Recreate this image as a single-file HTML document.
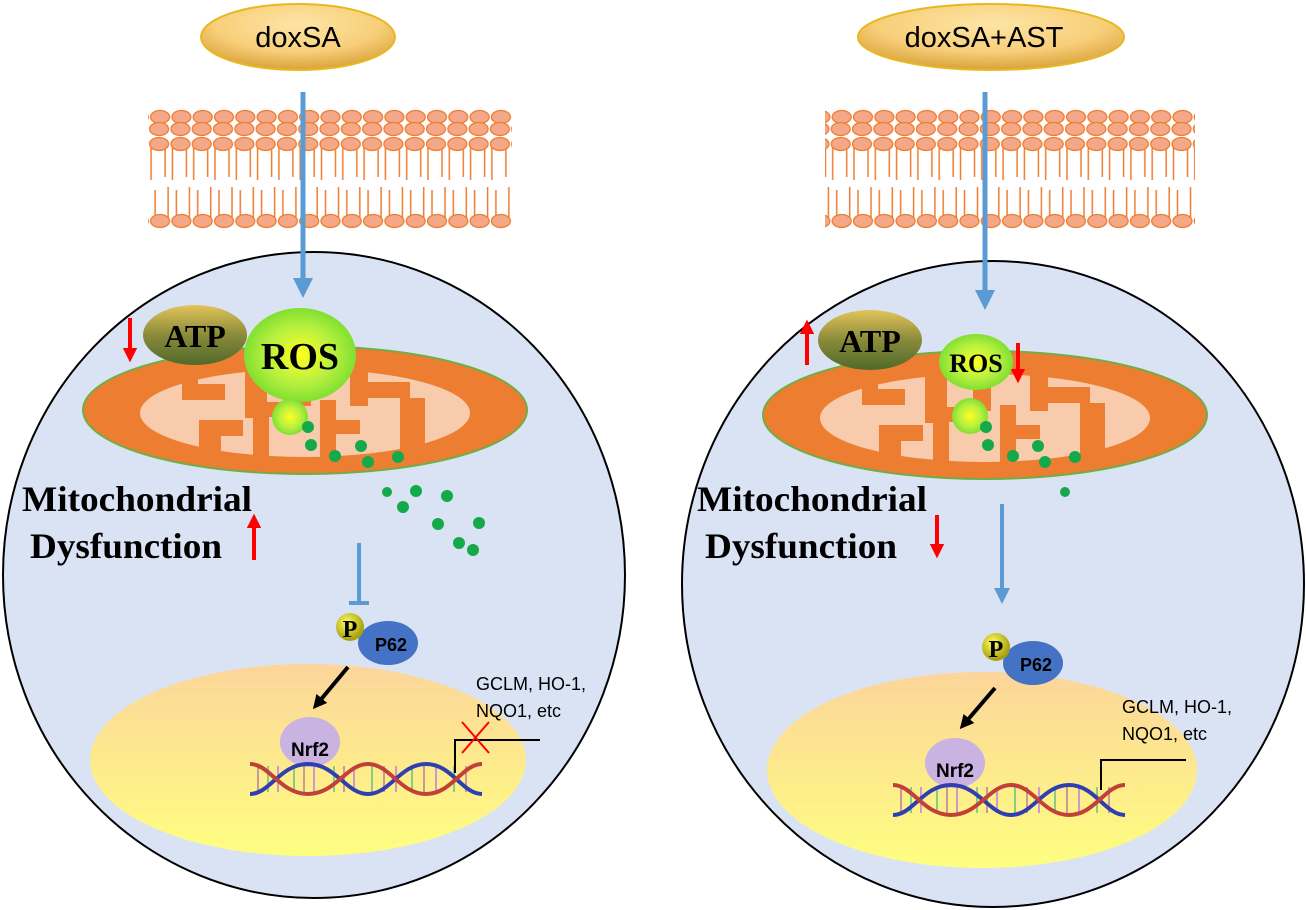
<!DOCTYPE html>
<html><head><meta charset="utf-8"><style>
html,body{margin:0;padding:0;background:#fff;}
svg{display:block;}
.ser{font-family:"Liberation Serif",serif;font-weight:bold;}
.san{font-family:"Liberation Sans",sans-serif;}
</style></head><body>
<svg width="1306" height="910" viewBox="0 0 1306 910" xmlns="http://www.w3.org/2000/svg">
<defs>
<radialGradient id="gold" cx="50%" cy="30%" r="70%"><stop offset="0" stop-color="#fde5a6"/><stop offset="0.6" stop-color="#f8cf7a"/><stop offset="1" stop-color="#d9a23a"/></radialGradient>
<linearGradient id="atp" x1="0" y1="0" x2="0" y2="1"><stop offset="0" stop-color="#e2c45a"/><stop offset="0.5" stop-color="#8a8a3a"/><stop offset="1" stop-color="#4f6a2a"/></linearGradient>
<radialGradient id="ros" cx="50%" cy="50%" r="50%"><stop offset="0" stop-color="#ffff20"/><stop offset="0.6" stop-color="#b8f040"/><stop offset="1" stop-color="#80e030"/></radialGradient>
<linearGradient id="nuc" x1="0" y1="0" x2="0" y2="1"><stop offset="0" stop-color="#fcd59a"/><stop offset="1" stop-color="#fefe80"/></linearGradient>
<radialGradient id="pball" cx="40%" cy="35%" r="60%"><stop offset="0" stop-color="#ffff60"/><stop offset="1" stop-color="#a8a010"/></radialGradient>
<pattern id="mem" x="0" y="105" width="21.3" height="125" patternUnits="userSpaceOnUse">
<line x1="2" y1="40" x2="2" y2="75" stroke="#ed7d31" stroke-width="1.5"/>
<line x1="16" y1="40" x2="16" y2="72" stroke="#ed7d31" stroke-width="1.5"/>
<line x1="6" y1="85" x2="6" y2="116" stroke="#ed7d31" stroke-width="1.5"/>
<line x1="19" y1="82" x2="19" y2="116" stroke="#ed7d31" stroke-width="1.5"/>
<ellipse cx="11" cy="12" rx="9.5" ry="6.5" fill="#f4a887" stroke="#ed7d31" stroke-width="1.3"/>
<ellipse cx="10" cy="24" rx="9.5" ry="6.5" fill="#f4a887" stroke="#ed7d31" stroke-width="1.3"/>
<ellipse cx="10" cy="39" rx="9.5" ry="6.5" fill="#f4a887" stroke="#ed7d31" stroke-width="1.3"/>
<ellipse cx="11" cy="116" rx="9.5" ry="6.5" fill="#f4a887" stroke="#ed7d31" stroke-width="1.3"/>
</pattern>
<marker id="bh" markerWidth="4" markerHeight="4" refX="2" refY="2" orient="auto" markerUnits="strokeWidth"><path d="M0,0 L4,2 L0,4z" fill="#5b9bd5"/></marker>
<marker id="rh" markerWidth="3.6" markerHeight="3.6" refX="1" refY="1.8" orient="auto" markerUnits="strokeWidth"><path d="M0,0 L3.6,1.8 L0,3.6z" fill="#ff0000"/></marker>
<marker id="kh" markerWidth="3.5" markerHeight="3.5" refX="1.5" refY="1.75" orient="auto" markerUnits="strokeWidth"><path d="M0,0 L3.5,1.75 L0,3.5z" fill="#000"/></marker>
<g id="mito">
<ellipse cx="0" cy="0" rx="222" ry="64" fill="#ed7d31" stroke="#70ad47" stroke-width="2"/>
<ellipse cx="0" cy="3" rx="165" ry="44" fill="#f8cbad"/>
<rect x="-123" y="-42" width="16" height="32" fill="#ed7d31"/>
<rect x="-107" y="-26" width="27" height="16" fill="#ed7d31"/>
<rect x="-106" y="10" width="22" height="40" fill="#ed7d31"/>
<rect x="-84" y="10" width="22" height="16" fill="#ed7d31"/>
<rect x="-60" y="-42" width="22" height="50" fill="#ed7d31"/>
<rect x="-38" y="-8" width="28" height="15" fill="#ed7d31"/>
<rect x="-52" y="-2" width="16" height="58" fill="#ed7d31"/>
<rect x="-12" y="-42" width="18" height="38" fill="#ed7d31"/>
<rect x="15" y="-10" width="16" height="60" fill="#ed7d31"/>
<rect x="31" y="10" width="24" height="14" fill="#ed7d31"/>
<rect x="45" y="-42" width="18" height="38" fill="#ed7d31"/>
<rect x="63" y="-28" width="42" height="16" fill="#ed7d31"/>
<rect x="95" y="-12" width="25" height="62" fill="#ed7d31"/>
</g>
<g id="dna">
<g stroke-width="2">
<line x1="8" y1="4" x2="8" y2="30" stroke="#c99"/><line x1="18" y1="4" x2="18" y2="30" stroke="#8c8"/><line x1="28" y1="4" x2="28" y2="30" stroke="#c9c"/><line x1="44" y1="4" x2="44" y2="30" stroke="#8c8"/><line x1="54" y1="4" x2="54" y2="30" stroke="#c99"/><line x1="64" y1="4" x2="64" y2="30" stroke="#c9c"/><line x1="84" y1="4" x2="84" y2="30" stroke="#8c8"/><line x1="94" y1="4" x2="94" y2="30" stroke="#c99"/><line x1="104" y1="4" x2="104" y2="30" stroke="#c9c"/><line x1="122" y1="4" x2="122" y2="30" stroke="#8c8"/><line x1="134" y1="4" x2="134" y2="30" stroke="#c99"/><line x1="146" y1="4" x2="146" y2="30" stroke="#c9c"/><line x1="162" y1="4" x2="162" y2="30" stroke="#8c8"/><line x1="174" y1="4" x2="174" y2="30" stroke="#c99"/><line x1="186" y1="4" x2="186" y2="30" stroke="#c9c"/><line x1="204" y1="4" x2="204" y2="30" stroke="#8c8"/><line x1="216" y1="4" x2="216" y2="30" stroke="#c99"/>
</g>
<path d="M0,32 C20,32 30,2 58,2 C86,2 96,32 118,32 C140,32 150,2 176,2 C202,2 212,32 232,32" fill="none" stroke="#2f3fb0" stroke-width="4"/>
<path d="M0,2 C20,2 30,32 58,32 C86,32 96,2 118,2 C140,2 150,32 176,32 C202,32 212,2 232,2" fill="none" stroke="#c0403a" stroke-width="4"/>
</g>
</defs>
<rect width="1306" height="910" fill="#fff"/>

<!-- LEFT -->
<ellipse cx="298" cy="37" rx="97" ry="33" fill="url(#gold)" stroke="#e8b820" stroke-width="2"/>
<text x="298" y="47" text-anchor="middle" class="san" font-size="29">doxSA</text>
<rect x="148" y="105" width="364" height="125" fill="url(#mem)"/>
<ellipse cx="314" cy="575" rx="311" ry="323" fill="#dae3f3" stroke="#000" stroke-width="2"/>
<use href="#mito" x="305" y="410"/>
<line x1="303" y1="92" x2="303" y2="288" stroke="#5b9bd5" stroke-width="5" marker-end="url(#bh)"/>
<ellipse cx="195" cy="335" rx="52" ry="30" fill="url(#atp)"/>
<text x="195" y="347" text-anchor="middle" class="ser" font-size="32">ATP</text>
<line x1="130" y1="318" x2="130" y2="352" stroke="#ff0000" stroke-width="4" marker-end="url(#rh)"/>
<ellipse cx="300" cy="355" rx="56" ry="47" fill="url(#ros)"/>
<text x="300" y="369" text-anchor="middle" class="ser" font-size="38">ROS</text>
<circle cx="290" cy="417" r="18" fill="url(#ros)"/>
<g fill="#14a94a">
<circle cx="308" cy="427" r="6"/><circle cx="311" cy="445" r="6"/><circle cx="335" cy="456" r="6"/><circle cx="361" cy="446" r="6"/><circle cx="368" cy="462" r="6"/><circle cx="398" cy="457" r="6"/>
<circle cx="387" cy="492" r="5"/><circle cx="416" cy="491" r="6"/><circle cx="447" cy="496" r="6"/><circle cx="403" cy="507" r="6"/><circle cx="438" cy="524" r="6"/><circle cx="479" cy="523" r="6"/><circle cx="459" cy="543" r="6"/><circle cx="473" cy="550" r="6"/>
</g>
<text x="22" y="511" class="ser" font-size="36" textLength="230" lengthAdjust="spacingAndGlyphs">Mitochondrial</text>
<text x="30" y="558" class="ser" font-size="36" textLength="192" lengthAdjust="spacingAndGlyphs">Dysfunction</text>
<line x1="254" y1="560" x2="254" y2="524" stroke="#ff0000" stroke-width="4" marker-end="url(#rh)"/>
<line x1="359" y1="543" x2="359" y2="603" stroke="#5b9bd5" stroke-width="4"/>
<line x1="349" y1="603" x2="369" y2="603" stroke="#5b9bd5" stroke-width="4"/>
<ellipse cx="308" cy="760" rx="218" ry="96" fill="url(#nuc)"/>
<ellipse cx="388" cy="643" rx="30" ry="22" fill="#4472c4"/>
<text x="391" y="651" text-anchor="middle" class="san" font-weight="bold" font-size="18">P62</text>
<circle cx="350" cy="627" r="14" fill="url(#pball)"/>
<text x="350" y="637" text-anchor="middle" class="ser" font-size="24">P</text>
<line x1="348" y1="667" x2="318" y2="703" stroke="#000" stroke-width="4" marker-end="url(#kh)"/>
<ellipse cx="310" cy="742" rx="30" ry="25" fill="#c9b3e0"/>
<use href="#dna" x="250" y="762"/>
<text x="310" y="756" text-anchor="middle" class="san" font-weight="bold" font-size="19">Nrf2</text>
<text x="476" y="690" class="san" font-size="18">GCLM, HO-1,</text>
<text x="476" y="717" class="san" font-size="18">NQO1, etc</text>
<polyline points="455,773 455,740 540,740" fill="none" stroke="#000" stroke-width="2"/>
<line x1="462" y1="722" x2="489" y2="753" stroke="#f00" stroke-width="2"/>
<line x1="489" y1="722" x2="462" y2="753" stroke="#f00" stroke-width="2"/>

<!-- RIGHT -->
<ellipse cx="991" cy="37" rx="133" ry="33" fill="url(#gold)" stroke="#e8b820" stroke-width="2"/>
<text x="984" y="47" text-anchor="middle" class="san" font-size="29">doxSA+AST</text>
<rect x="825" y="105" width="370" height="125" fill="url(#mem)"/>
<ellipse cx="993" cy="584" rx="311" ry="323" fill="#dae3f3" stroke="#000" stroke-width="2"/>
<use href="#mito" x="985" y="415"/>
<line x1="985" y1="92" x2="985" y2="300" stroke="#5b9bd5" stroke-width="5" marker-end="url(#bh)"/>
<ellipse cx="870" cy="340" rx="52" ry="30" fill="url(#atp)"/>
<text x="870" y="352" text-anchor="middle" class="ser" font-size="32">ATP</text>
<line x1="807" y1="365" x2="807" y2="330" stroke="#ff0000" stroke-width="4" marker-end="url(#rh)"/>
<ellipse cx="976" cy="362" rx="37" ry="28" fill="url(#ros)"/>
<text x="976" y="372" text-anchor="middle" class="ser" font-size="26">ROS</text>
<line x1="1018" y1="343" x2="1018" y2="373" stroke="#ff0000" stroke-width="4" marker-end="url(#rh)"/>
<circle cx="970" cy="416" r="18" fill="url(#ros)"/>
<g fill="#14a94a">
<circle cx="986" cy="427" r="6"/><circle cx="988" cy="445" r="6"/><circle cx="1013" cy="456" r="6"/><circle cx="1038" cy="446" r="6"/><circle cx="1045" cy="462" r="6"/><circle cx="1075" cy="457" r="6"/><circle cx="1065" cy="492" r="5"/>
</g>
<text x="697" y="511" class="ser" font-size="36" textLength="230" lengthAdjust="spacingAndGlyphs">Mitochondrial</text>
<text x="705" y="558" class="ser" font-size="36" textLength="192" lengthAdjust="spacingAndGlyphs">Dysfunction</text>
<line x1="937" y1="515" x2="937" y2="548" stroke="#ff0000" stroke-width="4" marker-end="url(#rh)"/>
<line x1="1002" y1="504" x2="1002" y2="596" stroke="#5b9bd5" stroke-width="4" marker-end="url(#bh)"/>
<ellipse cx="982" cy="770" rx="215" ry="98" fill="url(#nuc)"/>
<ellipse cx="1033" cy="663" rx="30" ry="22" fill="#4472c4"/>
<text x="1036" y="671" text-anchor="middle" class="san" font-weight="bold" font-size="18">P62</text>
<circle cx="996" cy="647" r="14" fill="url(#pball)"/>
<text x="996" y="657" text-anchor="middle" class="ser" font-size="24">P</text>
<line x1="995" y1="688" x2="965" y2="723" stroke="#000" stroke-width="4" marker-end="url(#kh)"/>
<ellipse cx="955" cy="763" rx="30" ry="25" fill="#c9b3e0"/>
<use href="#dna" x="893" y="783"/>
<text x="955" y="777" text-anchor="middle" class="san" font-weight="bold" font-size="19">Nrf2</text>
<text x="1122" y="713" class="san" font-size="18">GCLM, HO-1,</text>
<text x="1122" y="740" class="san" font-size="18">NQO1, etc</text>
<polyline points="1101,790 1101,760 1186,760" fill="none" stroke="#000" stroke-width="2"/>
</svg>
</body></html>
